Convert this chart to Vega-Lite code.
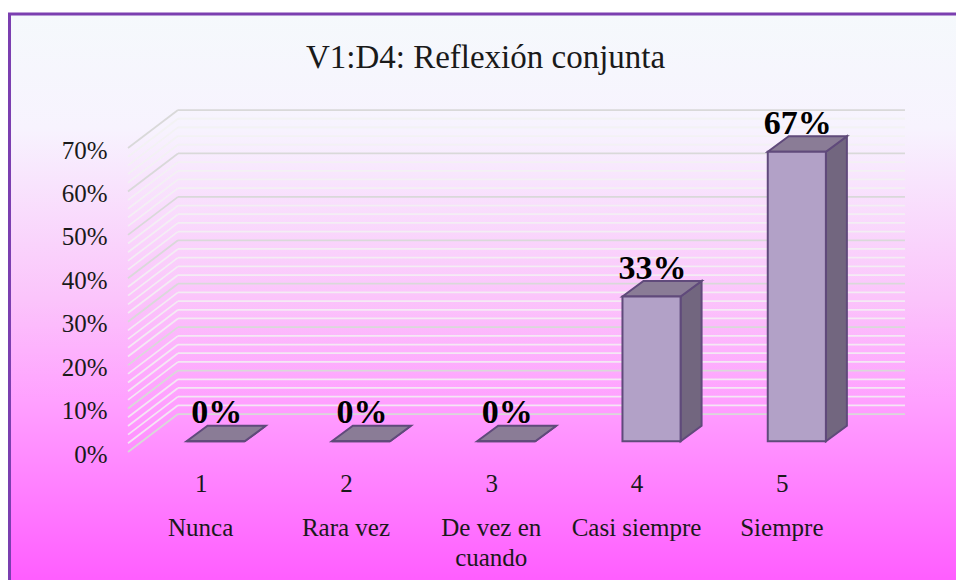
{
 "$schema":"https://vega.github.io/schema/vega-lite/v6.json",
 "width":777,"height":304,"autosize":"none",
 "padding":{"left":128,"top":148,"right":51,"bottom":128},
 "background":"white",
 "title":{"text":"V1:D4: Reflexión conjunta","font":"Liberation Serif","fontSize":33,"fontWeight":"normal","color":"#1a1a1a","anchor":"middle","dx":-31,"offset":-62},
 "datasets":{
  "bars":[
   {"cat":1,"label":"Nunca","lines":["Nunca"],"share":0},
   {"cat":2,"label":"Rara vez","lines":["Rara vez"],"share":0},
   {"cat":3,"label":"De vez en cuando","lines":["De vez en","cuando"],"share":0},
   {"cat":4,"label":"Casi siempre","lines":["Casi siempre"],"share":0.3333},
   {"cat":5,"label":"Siempre","lines":["Siempre"],"share":0.6667}
  ],
  "grid":[
   {"v":0.02,"major":false},{"v":0.04,"major":false},{"v":0.06,"major":false},{"v":0.08,"major":false},
   {"v":0.12,"major":false},{"v":0.14,"major":false},{"v":0.16,"major":false},{"v":0.18,"major":false},
   {"v":0.22,"major":false},{"v":0.24,"major":false},{"v":0.26,"major":false},{"v":0.28,"major":false},
   {"v":0.32,"major":false},{"v":0.34,"major":false},{"v":0.36,"major":false},{"v":0.38,"major":false},
   {"v":0.42,"major":false},{"v":0.44,"major":false},{"v":0.46,"major":false},{"v":0.48,"major":false},
   {"v":0.52,"major":false},{"v":0.54,"major":false},{"v":0.56,"major":false},{"v":0.58,"major":false},
   {"v":0.62,"major":false},{"v":0.64,"major":false},{"v":0.66,"major":false},{"v":0.68,"major":false},
   {"v":0,"major":true},{"v":0.1,"major":true},{"v":0.2,"major":true},{"v":0.3,"major":true},
   {"v":0.4,"major":true},{"v":0.5,"major":true},{"v":0.6,"major":true},{"v":0.7,"major":true}
  ],
  "panel":[{"x0":-0.3155,"x1":6.24,"y0":-0.304,"y1":1.0085}]
 },
 "config":{"view":{"stroke":null}},
 "encoding":{},
 "layer":[
  {"data":{"name":"panel"},
   "mark":{"type":"rect","stroke":"#7b3fb0","strokeWidth":3,
    "fill":{"gradient":"linear","x1":0,"y1":0,"x2":0,"y2":1,"stops":[
     {"offset":0,"color":"#f5f9fc"},{"offset":0.2,"color":"#f7f3fe"},{"offset":0.5,"color":"#fbc4fb"},{"offset":0.68,"color":"#ffa0ff"},{"offset":1,"color":"#ff5cff"}]}},
   "encoding":{
    "x":{"field":"x0","type":"quantitative","scale":{"domain":[0.5,5.8475],"nice":false,"zero":false},
     "axis":{"values":[1,2,3,4,5],"title":null,"grid":false,"domain":false,"ticks":false,"labelFont":"Liberation Serif","labelFontSize":25,"labelColor":"#1a1a1a","labelPadding":19,"zindex":1,"format":"d","labelFlush":false}},
    "x2":{"field":"x1"},
    "y":{"field":"y0","type":"quantitative","scale":{"domain":[0,0.7],"nice":false},
     "axis":{"values":[0,0.1,0.2,0.3,0.4,0.5,0.6,0.7],"format":".0%","title":null,"grid":false,"domain":false,"ticks":false,"labelFont":"Liberation Serif","labelFontSize":25,"labelColor":"#1a1a1a","labelPadding":21,"labelOffset":2,"zindex":1,"labelFlush":false}},
    "y2":{"field":"y1"}}},
  {"data":{"name":"grid"},"transform":[{"calculate":"datum.v+0.0875","as":"vb"}],
   "mark":{"type":"rule","strokeWidth":1.75},
   "encoding":{
    "x":{"datum":0.5,"type":"quantitative"},"x2":{"datum":0.844},
    "y":{"field":"v","type":"quantitative"},"y2":{"field":"vb"},
    "color":{"condition":{"test":"datum.major","value":"#d9d9d9"},"value":"#f2f2f2"},
    "opacity":{"condition":{"test":"datum.major","value":1},"value":0.85}}},
  {"data":{"name":"grid"},"transform":[{"calculate":"datum.v+0.0875","as":"vb"}],
   "mark":{"type":"rule","strokeWidth":1.75},
   "encoding":{
    "x":{"datum":0.844,"type":"quantitative"},"x2":{"datum":5.8475},
    "y":{"field":"vb","type":"quantitative"},
    "color":{"condition":{"test":"datum.major","value":"#d9d9d9"},"value":"#f2f2f2"},
    "opacity":{"condition":{"test":"datum.major","value":1},"value":0.85}}},
  {"data":{"name":"bars"},
   "transform":[
    {"calculate":"0","as":"p0"},{"calculate":"1","as":"p1"},
    {"fold":["p0","p1"],"as":["corner","t"]},
    {"calculate":"datum.cat+0.303+0.1445*datum.t","as":"xs"},
    {"calculate":"datum.share+0.0246+0.0357*datum.t","as":"yt"},
    {"calculate":"0.0246+0.0357*datum.t","as":"yb"}],
   "mark":{"type":"area","orient":"vertical","fill":"#72667f","stroke":"#604a7b","strokeWidth":2},
   "encoding":{
    "x":{"field":"xs","type":"quantitative"},
    "y":{"field":"yt","type":"quantitative"},"y2":{"field":"yb"},
    "detail":{"field":"cat","type":"nominal"}}},
  {"data":{"name":"bars"},
   "transform":[
    {"calculate":"0","as":"p0"},{"calculate":"0.1445","as":"p1"},{"calculate":"0.4","as":"p2"},{"calculate":"0.5445","as":"p3"},
    {"fold":["p0","p1","p2","p3"],"as":["corner","d"]},
    {"calculate":"datum.cat-0.097+datum.d","as":"xs"},
    {"calculate":"datum.share+0.0246+(datum.d>=0.1445?0.0357:0)","as":"yt"},
    {"calculate":"datum.share+0.0246+(datum.d>=0.5?0.0357:0)","as":"yb"}],
   "mark":{"type":"area","orient":"vertical","fill":"#8a7c96","stroke":"#604a7b","strokeWidth":2},
   "encoding":{
    "x":{"field":"xs","type":"quantitative"},
    "y":{"field":"yt","type":"quantitative"},"y2":{"field":"yb"},
    "detail":{"field":"cat","type":"nominal"}}},
  {"data":{"name":"bars"},
   "transform":[
    {"calculate":"datum.cat-0.097","as":"xl"},{"calculate":"datum.cat+0.303","as":"xr"},
    {"calculate":"datum.share+0.0246","as":"yt"},{"calculate":"0.0246","as":"yb"}],
   "mark":{"type":"rect","fill":"#b2a1c7","stroke":"#604a7b","strokeWidth":2},
   "encoding":{
    "x":{"field":"xl","type":"quantitative"},"x2":{"field":"xr"},
    "y":{"field":"yt","type":"quantitative"},"y2":{"field":"yb"}}},
  {"data":{"name":"bars"},
   "transform":[{"calculate":"datum.cat+0.11","as":"xc"},{"calculate":"datum.share+0.0246","as":"yt"}],
   "mark":{"type":"text","font":"Liberation Serif","fontSize":34,"fontWeight":"bold","color":"#000000","baseline":"alphabetic","dy":-18},
   "encoding":{
    "x":{"field":"xc","type":"quantitative"},
    "y":{"field":"yt","type":"quantitative"},
    "text":{"field":"share","type":"quantitative","format":".0%"}}},
  {"data":{"name":"bars"},
   "mark":{"type":"text","font":"Liberation Serif","fontSize":25,"color":"#1a1a1a","baseline":"top","lineHeight":30},
   "encoding":{
    "x":{"field":"cat","type":"quantitative"},
    "y":{"datum":-0.148,"type":"quantitative"},
    "text":{"field":"lines"}}}
 ]
}
